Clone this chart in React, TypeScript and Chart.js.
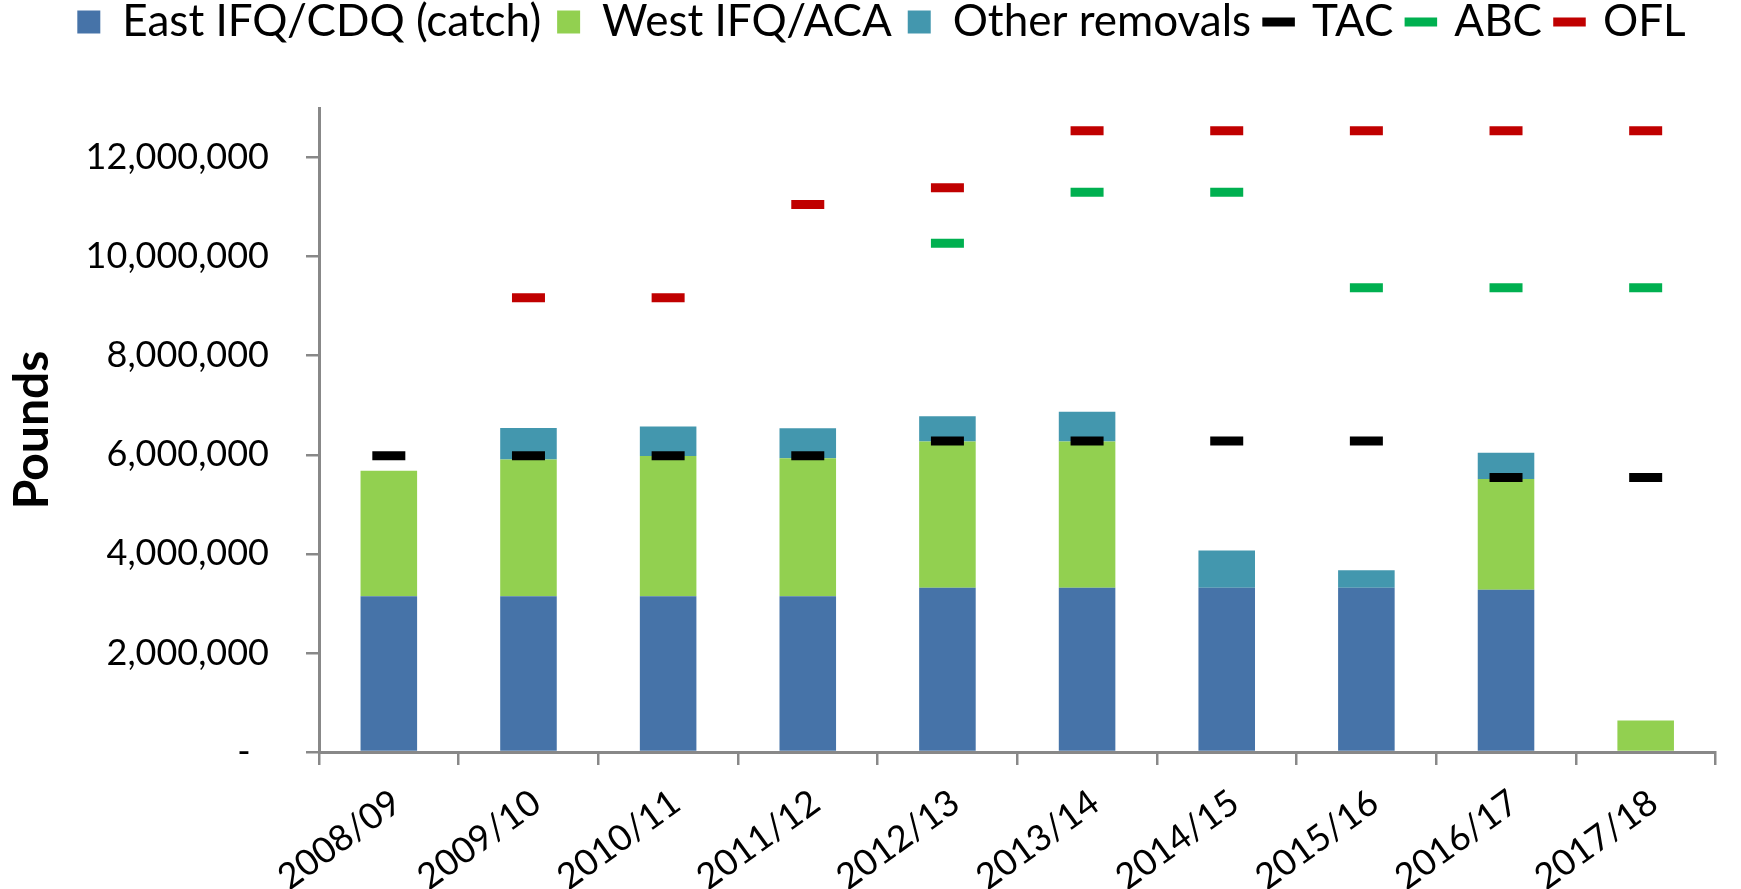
import React, { useEffect, useRef } from 'react';
import { Chart, registerables } from 'chart.js';

Chart.register(...registerables);

const categories = ['2008/09', '2009/10', '2010/11', '2011/12', '2012/13', '2013/14', '2014/15', '2015/16', '2016/17', '2017/18'];
const eastCatch = [3146000, 3146000, 3146000, 3146000, 3315000, 3315000, 3315000, 3315000, 3275000, 0];
const westIfqAca = [2532000, 2759000, 2828000, 2784000, 2951000, 2951000, 0, 0, 2236000, 636000];
const otherRemovals = [0, 633000, 596000, 604000, 514000, 604000, 752000, 355000, 529000, 0];
const tac = [5980000, 5980000, 5980000, 5980000, 6280000, 6280000, 6280000, 6280000, 5543000, 5543000];
const abc = [null, null, null, null, 10270000, 11300000, 11300000, 9370000, 9370000, 9370000];
const ofl = [null, 9170000, 9170000, 11050000, 11390000, 12540000, 12540000, 12540000, 12540000, 12540000];

const yTickValues = [0, 2000000, 4000000, 6000000, 8000000, 10000000, 12000000];
const Y_MAX = 13000000;

const FONT = "Lato, Carlito, 'Liberation Sans', sans-serif";
const AXIS = '#888888';

export default function App() {
  const ref = useRef<HTMLCanvasElement>(null);

  useEffect(() => {
    document.body.style.margin = '0';
    const legendSpacer = {
      id: 'legendSpacer',
      beforeLayout(chart: any) {
        const lg = chart.legend;
        if (lg && !lg._spacerPatched) {
          const origFit = lg.fit;
          lg.fit = function () {
            origFit.call(this);
            this.height = 124;
          };
          const origDraw = lg.draw;
          lg.draw = function (...args: any[]) {
            const ctx = this.ctx;
            ctx.save();
            ctx.translate(12, 0);
            origDraw.apply(this, args);
            ctx.restore();
          };
          lg._spacerPatched = true;
        }
      },
    };

    const lineMarker = (color: string) => ({
      type: 'line' as const,
      showLine: false,
      pointStyle: 'line' as const,
      pointRadius: 16.5,
      pointHoverRadius: 16.5,
      pointBorderWidth: 9,
      pointHoverBorderWidth: 9,
      pointBorderColor: color,
      pointBackgroundColor: color,
      borderColor: color,
      backgroundColor: color,
      order: 0,
    });

    const barStyle = { stack: 'bars', order: 1, pointStyle: 'rect', barPercentage: 0.405, categoryPercentage: 1, borderWidth: 0 };

    const chart = new Chart(ref.current as HTMLCanvasElement, {
      type: 'bar',
      data: {
        labels: categories,
        datasets: [
          { label: 'East IFQ/CDQ (catch)', data: eastCatch, backgroundColor: '#4673A8', ...barStyle } as any,
          { label: 'West IFQ/ACA', data: westIfqAca, backgroundColor: '#92D050', ...barStyle } as any,
          { label: 'Other removals', data: otherRemovals, backgroundColor: '#4397AE', ...barStyle } as any,
          { label: 'TAC', data: tac, stack: 'tac', ...lineMarker('#000000') } as any,
          { label: 'ABC', data: abc, stack: 'abc', ...lineMarker('#00B050') } as any,
          { label: 'OFL', data: ofl, stack: 'ofl', ...lineMarker('#C00000') } as any,
        ],
      },
      options: {
        responsive: false,
        animation: false,
        devicePixelRatio: 1,
        events: [],
        layout: { padding: { top: -16, right: 2, left: 0, bottom: 0 } },
        plugins: {
          tooltip: { enabled: false },
          legend: {
            position: 'top',
            labels: {
              usePointStyle: true,
              boxWidth: 23,
              boxHeight: 23,
              padding: 16,
              color: '#000',
              font: { family: FONT, size: 44 },
              sort: (a: any, b: any) => a.datasetIndex - b.datasetIndex,
            },
          },
        },
        scales: {
          x: {
            stacked: true,
            offset: true,
            grid: { offset: true, drawOnChartArea: false, drawTicks: true, tickLength: 13, color: AXIS, lineWidth: 2.5 },
            border: { color: AXIS, width: 3 },
            ticks: {
              autoSkip: false,
              minRotation: 36,
              maxRotation: 36,
              padding: 16,
              labelOffset: 8,
              color: '#000',
              font: { family: FONT, size: 36 },
            },
            afterFit: (s: any) => { s.height = 137; },
          },
          y: {
            stacked: true,
            min: 0,
            max: Y_MAX,
            grid: { drawOnChartArea: false, drawTicks: true, tickLength: 13, color: AXIS, lineWidth: 2.5 },
            border: { color: AXIS, width: 3 },
            ticks: {
              padding: 37,
              color: '#000',
              font: { family: FONT, size: 36 },
              callback: (v: any) => (Number(v) === 0 ? '-  ' : Number(v).toLocaleString('en-US')),
            },
            afterBuildTicks: (s: any) => { s.ticks = yTickValues.map((value) => ({ value })); },
            afterFit: (s: any) => { s.width = 319; },
            title: {
              display: true,
              text: 'Pounds',
              color: '#000',
              font: { family: FONT, size: 48, weight: 'bold' },
              padding: { top: 4, bottom: 0 },
            },
          },
        },
      },
      plugins: [legendSpacer],
    } as any);

    return () => chart.destroy();
  }, []);

  return <canvas ref={ref} width={1741} height={889} style={{ display: 'block' }} />;
}
